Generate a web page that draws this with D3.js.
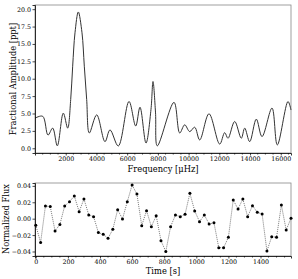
<!DOCTYPE html>
<html>
<head>
<meta charset="utf-8">
<title>spectrum and light curve</title>
<style>
	body { margin: 0; background: #fff; }
	text { font-family: "DejaVu Serif", serif; fill: #000; }
</style>
</head>
<body>
<div class="chart"></div>
<script src="https://cdn.jsdelivr.net/npm/d3@7"></script>
<script>
// periodogram (frequency in uHz, amplitude in ppt)
let freq = [0, 501, 846, 1152, 1452, 1842, 2129, 2324, 2453, 2604, 2819, 3060, 3210, 3365, 3535,
	4017, 4557, 4883, 5423, 6120, 6556, 6836, 7227, 7552, 7682, 7845, 7962, 9049, 9421, 9746, 10072,
	10397, 10723, 11328, 12025, 12350, 12565, 13001, 13431, 13652, 13978, 14408, 14779,
	15430, 15775, 16471, 16667];
let amp = [4.33, 4.6, 1.9, 2.9, 0.35, 5.05, 2.9, 7.0, 11.8, 16.6, 19.6, 16.6, 11.8, 7.0, 2.2,
	4.8, 0.95, 2.64, 0.33, 6.73, 3.2, 5.9, 0.75, 5.6, 9.6, 5.2, 0.35, 6.6, 2.2, 3.37, 2.4,
	3.03, 1.2, 4.96, 0.6, 2.25, 1.44, 3.85, 1.44, 2.9, 0.95, 4.19, 1.68,
	5.78, 0.48, 6.73, 5.5];

// light curve, 30 s cadence
let time = d3.range(0, 1591, 30);
let flux = [-0.008, -0.029, 0.0155, 0.0147, -0.015, -0.007, 0.0155, 0.0207, 0.0277, 0.0085,
	0.024, 0.0045, 0.0025, -0.017, -0.019, -0.024, -0.013, 0.011, -0.0004, 0.0207,
	0.041, 0.030, -0.0085, 0.0098, -0.0097, 0.0037, -0.027, -0.040, -0.0097, 0.0045,
	0.0025, 0.0054, 0.031, 0.0094, -0.0036, 0.0045, -0.0065, -0.0049, -0.0354, -0.0354,
	-0.0227, 0.0228, 0.0118, 0.024, 0.0025, 0.0159, 0.0078, 0.0057, -0.0394, -0.022,
	-0.0227, 0.0167, -0.0138, 0.0005];

let yTicksTop = [0, 2.5, 5, 7.5, 10, 12.5, 15, 17.5, 20];
let xTicksTop = [2000, 4000, 6000, 8000, 10000, 12000, 14000, 16000];
let yTicksBot = [-0.04, -0.02, 0, 0.02, 0.04];
let xTicksBot = [0, 200, 400, 600, 800, 1000, 1200, 1400];

window.onload = function(){
	draw();
}

function draw(){
	let svg = d3.select(".chart").append("svg")
		.attr("width", 298)
		.attr("height", 279);

	// ---- top panel: amplitude spectrum
	let x1 = d3.scaleLinear().domain([0, 16667]).range([35, 291]);
	let y1 = d3.scaleLinear().domain([-0.68, 20.6]).range([153, 5]);

	let top = svg.append("g");
	frame(top, x1, y1);

	top.append("path")
		.datum(freq.map((f, i) => [f, amp[i]]))
		.attr("fill", "none")
		.attr("stroke", "#333")
		.attr("stroke-width", 1)
		.attr("d", d3.line()
			.x(d => x1(d[0]))
			.y(d => y1(Math.max(d[1], 0.05)))
			.curve(d3.curveCatmullRom.alpha(0.5)));

	axes(top, x1, y1, xTicksTop, d3.range(500, 16667, 500), d3.format("d"),
		yTicksTop, d3.format(".1f"), 153);

	top.append("text")
		.attr("x", 163).attr("y", 172)
		.attr("text-anchor", "middle")
		.style("font-size", "8.3px")
		.text("Frequency [\u03bcHz]");
	top.append("text")
		.attr("transform", "translate(13,79) rotate(-90)")
		.attr("dy", "0.35em")
		.attr("text-anchor", "middle")
		.style("font-size", "8.3px")
		.text("Fractional Amplitude [ppt]");

	// ---- bottom panel: light curve
	let x2 = d3.scaleLinear().domain([-5, 1590]).range([35, 291]);
	let y2 = d3.scaleLinear().domain([-0.0455, 0.0435]).range([256, 183]);

	let bot = svg.append("g");
	frame(bot, x2, y2);

	let pts = time.map((t, i) => [t, flux[i]]);
	bot.append("path")
		.datum(pts)
		.attr("fill", "none")
		.attr("stroke", "#555")
		.attr("stroke-width", 0.8)
		.attr("stroke-dasharray", "1,1")
		.attr("d", d3.line().x(d => x2(d[0])).y(d => y2(d[1])));
	bot.selectAll("circle")
		.data(pts)
		.enter()
		.append("circle")
		.attr("cx", d => x2(d[0]))
		.attr("cy", d => y2(d[1]))
		.attr("r", 1.5)
		.attr("fill", "#000");

	axes(bot, x2, y2, xTicksBot, d3.range(0, 1591, 50), d3.format("d"),
		yTicksBot, d3.format(".2f"), 256);

	bot.append("text")
		.attr("x", 163).attr("y", 274)
		.attr("text-anchor", "middle")
		.style("font-size", "8.3px")
		.text("Time [s]");
	bot.append("text")
		.attr("transform", "translate(6,219) rotate(-90)")
		.attr("dy", "0.35em")
		.attr("text-anchor", "middle")
		.style("font-size", "8.3px")
		.text("Normalized Flux");
}

// box around the plot area
function frame(g, x, y){
	let [l, r] = x.range();
	let [b, t] = y.range();
	g.append("rect")
		.attr("x", l).attr("y", t)
		.attr("width", r - l).attr("height", b - t)
		.attr("fill", "none")
		.attr("stroke", "#888")
		.attr("stroke-width", 0.8);
}

function axes(g, x, y, xt, xminor, xfmt, yt, yfmt, bottom){
	let ax = g.append("g")
		.attr("transform", "translate(0," + bottom + ")")
		.call(d3.axisBottom(x).tickValues(xt).tickFormat(xfmt).tickSizeOuter(0).tickSize(2.5).tickPadding(1));
	ax.append("g").selectAll("line")
		.data(xminor.filter(v => xt.indexOf(v) < 0))
		.enter()
		.append("line")
		.attr("x1", d => x(d)).attr("x2", d => x(d))
		.attr("y1", 0).attr("y2", 1.6)
		.attr("stroke", "#000")
		.attr("stroke-width", 0.6);

	let ay = g.append("g")
		.attr("transform", "translate(" + x.range()[0] + ",0)")
		.call(d3.axisLeft(y).tickValues(yt).tickFormat(yfmt).tickSizeOuter(0).tickSize(2.5).tickPadding(1.5));

	[ax, ay].forEach(a => {
		a.selectAll("text").style("font-size", "6.3px").style("font-family", "DejaVu Serif");
		a.select(".domain").attr("stroke-width", 0.8);
		a.selectAll(".tick line").attr("stroke-width", 0.7);
	});
}
</script>
</body>
</html>
